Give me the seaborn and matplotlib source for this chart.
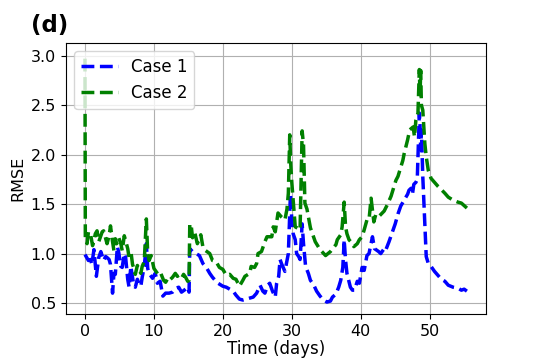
import pandas as pd
import numpy as np
import seaborn as sns
import matplotlib.pyplot as plt

# Case 1 (blue)
t_case1 = [0.0, 0.5, 0.8, 1.0, 1.3, 1.65, 2.0, 2.3, 2.7, 3.0, 3.2, 3.5, 3.7, 4.0, 4.2, 4.4,
           4.7, 4.9, 5.2, 5.4, 5.7, 5.9, 6.2, 6.4, 6.65, 6.9, 7.1, 7.3, 7.6, 7.8, 8.1, 8.3,
           8.6, 8.9, 9.1, 9.3, 9.8, 10.2, 10.5, 10.9, 11.3, 11.7, 12.2, 12.7, 13.2, 13.6,
           14.0, 14.4, 14.9, 15.1, 15.2, 15.6, 16.1, 16.6, 17.1, 17.6, 18.1, 18.5, 19.0,
           19.3, 20.0, 20.5, 21.0, 21.5, 21.9, 22.4, 22.9, 23.4, 23.9, 24.4, 24.9, 25.4,
           25.8, 26.1, 26.5, 26.8, 27.2, 27.6, 27.8, 28.1, 28.3, 28.5, 29.0, 29.5, 29.8,
           30.0, 30.2, 30.5, 30.7, 31.0, 31.2, 31.5, 31.7, 32.0, 32.4, 32.7, 33.2, 33.6,
           34.1, 34.6, 35.1, 35.6, 35.9, 36.4, 36.8, 37.1, 37.4, 37.6, 37.8, 38.0, 38.5,
           38.8, 39.1, 39.5, 39.8, 40.2, 40.5, 40.9, 41.2, 41.5, 41.7, 42.0, 42.2, 42.6,
           42.9, 43.4, 43.6, 44.1, 44.4, 45.0, 45.4, 45.8, 46.3, 46.8, 47.0, 47.3, 47.5,
           47.7, 48.0, 48.2, 48.4, 48.5, 48.6, 48.7, 48.8, 49.0, 49.2, 49.3, 49.5, 49.8,
           50.2, 50.7, 51.2, 51.7, 52.2, 52.7, 53.4, 54.1, 54.6, 55.0, 55.4]
rmse_case1 = [0.99, 0.93, 0.94, 0.89, 1.04, 0.77, 0.96, 1.02, 0.93, 0.97, 0.96, 0.94, 0.89, 0.60,
              0.80, 0.79, 1.07, 1.01, 0.87, 0.86, 1.00, 0.96, 0.74, 0.66, 0.87, 0.76, 0.67,
              0.66, 0.74, 0.70, 0.67, 0.76, 0.87, 1.10, 0.85, 0.80, 0.75, 0.80, 0.70, 0.72,
              0.57, 0.60, 0.60, 0.61, 0.65, 0.66, 0.61, 0.63, 0.66, 0.61, 1.05, 1.02, 1.00,
              0.98, 0.90, 0.86, 0.80, 0.76, 0.72, 0.70, 0.67, 0.66, 0.64, 0.62, 0.58, 0.54,
              0.53, 0.54, 0.55, 0.56, 0.60, 0.68, 0.62, 0.60, 0.68, 0.70, 0.62, 0.56, 0.70,
              0.77, 0.94, 0.90, 0.82, 1.00, 1.60, 1.34, 1.20, 1.14, 1.00, 0.97, 0.94, 1.30,
              1.10, 0.87, 0.80, 0.73, 0.68, 0.62, 0.57, 0.53, 0.51, 0.52, 0.56, 0.59, 0.66,
              0.73, 0.86, 1.14, 0.93, 0.80, 0.66, 0.63, 0.63, 0.72, 0.70, 0.86, 0.83, 0.98,
              1.00, 1.10, 1.17, 1.05, 1.04, 1.02, 1.00, 1.05, 1.03, 1.12, 1.18, 1.30, 1.40,
              1.48, 1.54, 1.60, 1.64, 1.66, 1.60, 1.70, 1.72, 1.75, 2.20, 2.42, 2.30, 2.05,
              2.25, 1.78, 1.45, 1.27, 0.97, 0.90, 0.87, 0.82, 0.78, 0.74, 0.72, 0.68, 0.66,
              0.65, 0.63, 0.64, 0.62]

# Case 2 (green)
t_case2 = [0.0, 0.05, 0.3, 0.5, 0.8, 1.1, 1.3, 1.5, 1.75, 2.0, 2.2, 2.5, 2.7, 3.0, 3.2, 3.5,
           3.7, 4.0, 4.2, 4.4, 4.6, 4.9, 5.2, 5.4, 5.7, 5.9, 6.2, 6.4, 6.7, 6.9, 7.1, 7.3,
           7.6, 7.8, 8.1, 8.3, 8.6, 8.9, 9.1, 9.3, 9.6, 10.0, 10.3, 10.7, 11.0, 11.4, 11.7,
           12.1, 12.4, 12.7, 13.1, 13.4, 13.6, 14.0, 14.3, 14.6, 14.9, 15.1, 15.2, 15.4,
           15.6, 15.9, 16.3, 16.6, 16.8, 17.1, 17.5, 18.1, 18.5, 19.0, 19.5, 20.0, 20.5,
           21.0, 21.5, 21.9, 22.2, 22.4, 22.9, 23.2, 23.9, 24.1, 24.6, 24.9, 25.1, 25.6,
           26.1, 26.4, 27.1, 27.3, 27.6, 28.0, 28.5, 29.0, 29.3, 29.5, 29.7, 29.85, 30.0,
           30.3, 30.5, 31.0, 31.2, 31.5, 31.7, 31.9, 32.2, 32.7, 33.4, 34.1, 34.9, 35.6,
           36.4, 36.6, 37.1, 37.3, 37.6, 37.8, 38.0, 38.3, 38.8, 39.0, 39.5, 39.8, 40.2,
           40.5, 40.9, 41.2, 41.5, 41.9, 42.2, 42.7, 43.4, 43.9, 44.4, 45.1, 45.4, 46.1,
           46.3, 46.8, 47.1, 47.6, 47.8, 48.0, 48.3, 48.5, 48.6, 48.7, 48.8, 49.0, 49.3,
           49.5, 49.8, 50.2, 50.7, 51.2, 51.5, 52.2, 52.7, 53.4, 54.1, 54.6, 55.4]
rmse_case2 = [2.97, 1.15, 1.10, 1.22, 1.20, 1.08, 1.13, 1.20, 1.23, 1.12, 1.16, 1.22, 1.23, 1.15,
              1.10, 1.18, 1.28, 1.12, 1.03, 1.15, 1.10, 1.16, 1.10, 1.03, 1.18, 1.13, 1.05,
              0.96, 1.00, 0.89, 0.85, 0.79, 0.88, 0.84, 0.80, 0.87, 0.92, 1.35, 1.00, 0.93,
              0.98, 0.85, 0.82, 0.78, 0.80, 0.73, 0.71, 0.76, 0.74, 0.76, 0.80, 0.77, 0.78,
              0.75, 0.79, 0.76, 0.72, 0.73, 1.30, 1.29, 1.16, 1.22, 1.10, 1.15, 1.19, 1.07,
              1.03, 1.00, 0.93, 0.92, 0.86, 0.84, 0.78, 0.79, 0.75, 0.74, 0.70, 0.67, 0.73,
              0.77, 0.80, 0.87, 0.86, 0.90, 1.00, 1.02, 1.12, 1.17, 1.17, 1.27, 1.22, 1.41,
              1.37, 1.34, 1.45, 1.61, 2.20, 1.90, 1.72, 1.45, 1.27, 1.25, 1.24, 2.24, 2.10,
              1.51, 1.45, 1.26, 1.12, 1.04, 0.98, 1.02, 1.09, 1.14, 1.19, 1.27, 1.52, 1.27,
              1.20, 1.14, 1.10, 1.07, 1.10, 1.14, 1.17, 1.24, 1.34, 1.34, 1.56, 1.32, 1.40,
              1.38, 1.43, 1.50, 1.58, 1.74, 1.78, 1.94, 2.01, 2.15, 2.25, 2.28, 2.18, 2.35,
              2.42, 2.86, 2.60, 2.85, 2.50, 2.45, 2.11, 1.98, 1.84, 1.76, 1.72, 1.68, 1.66,
              1.61, 1.57, 1.54, 1.52, 1.51, 1.46]

df1 = pd.DataFrame({'time': t_case1, 'rmse': rmse_case1})
df2 = pd.DataFrame({'time': t_case2, 'rmse': rmse_case2})

sns.set_style('ticks', {'text.color': 'black', 'axes.labelcolor': 'black',
                        'xtick.color': 'black', 'ytick.color': 'black',
                        'axes.edgecolor': 'black'})

fig, ax = plt.subplots(figsize=(5.4, 3.6), dpi=100)
fig.subplots_adjust(left=0.122, right=0.9, top=0.881, bottom=0.128)

sns.lineplot(x='time', y='rmse', data=df1, ax=ax, color='blue', linestyle='--',
             linewidth=2.5, label='Case 1', estimator=None, sort=False)
sns.lineplot(x='time', y='rmse', data=df2, ax=ax, color='green', linestyle='--',
             linewidth=2.5, label='Case 2', estimator=None, sort=False)

ax.grid(True, color='#b0b0b0', linewidth=0.8)
ax.set_xticks([0, 10, 20, 30, 40, 50])
ax.set_yticks([0.5, 1.0, 1.5, 2.0, 2.5, 3.0])
ax.set_ylim(0.39, 3.13)
ax.tick_params(labelsize=11.5, colors='black')
ax.set_xlabel('Time (days)', fontsize=12, labelpad=1)
ax.set_ylabel('RMSE', fontsize=11.5)
ax.legend(loc='upper left', fontsize=12, handlelength=2.2)

fig.text(0.057, 0.912, '(d)', fontsize=16.5, fontweight='bold', color='black')

fig.savefig('out.png', dpi=100)
